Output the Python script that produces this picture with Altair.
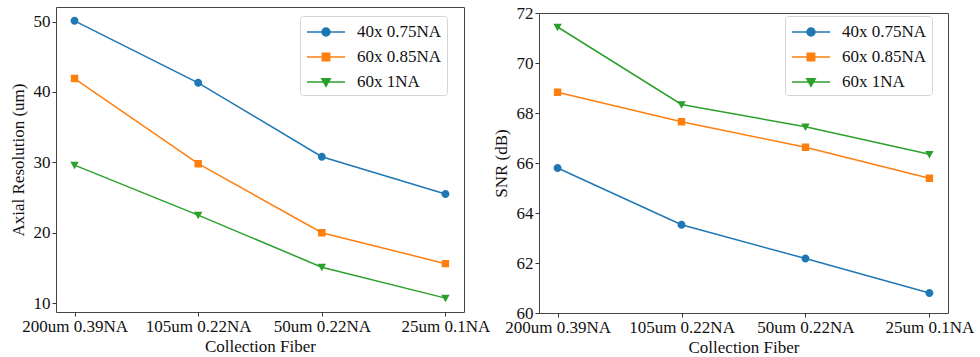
import altair as alt
import pandas as pd

fibers = ["200um 0.39NA", "105um 0.22NA", "50um 0.22NA", "25um 0.1NA"]
series = ["40x 0.75NA", "60x 0.85NA", "60x 1NA"]
colors = ["#1f77b4", "#ff7f0e", "#2ca02c"]

axial_40x075 = [50.1, 41.3, 30.8, 25.5]
axial_60x085 = [41.9, 29.8, 20.0, 15.6]
axial_60x1 = [29.6, 22.5, 15.1, 10.7]

snr_40x075 = [65.8, 63.53, 62.18, 60.8]
snr_60x085 = [68.83, 67.65, 66.63, 65.39]
snr_60x1 = [71.44, 68.34, 67.45, 66.35]

# marker glyphs with the legend line segment (the zero-area segment is invisible on filled points)
shapes = [
    "M-1.9,0H1.9M-0.4,0A0.4,0.4,0,1,1,0.4,0A0.4,0.4,0,1,1,-0.4,0Z",
    "M-1.9,0H1.9M-0.37,-0.37H0.37V0.37H-0.37Z",
    "M-1.9,0H1.9M-0.42,-0.33H0.42L0,0.42Z",
]

FONT = "Liberation Serif"


def make_df(vals):
    rows = []
    for s, v in zip(series, vals):
        for f, y in zip(fibers, v):
            rows.append({"fiber": f, "series": s, "value": y})
    return pd.DataFrame(rows)


df_axial = make_df([axial_40x075, axial_60x085, axial_60x1])
df_snr = make_df([snr_40x075, snr_60x085, snr_60x1])


def legend(lx, ly):
    return alt.Legend(
        title=None,
        orient="none",
        legendX=lx,
        legendY=ly,
        labelFont=FONT,
        labelFontSize=17,
        labelOffset=20,
        symbolOffset=10,
        symbolSize=400,
        symbolStrokeWidth=1.5,
        padding=5,
        rowPadding=6,
        fillColor="white",
        strokeColor="#d5d5d5",
        cornerRadius=3,
    )


def panel(df, ytitle, ydomain, yticks, lx, ly, w, h):
    x = alt.X(
        "fiber:N",
        sort=fibers,
        scale=alt.Scale(type="point", padding=0.15),
        axis=alt.Axis(title="Collection Fiber", labelAngle=0, titlePadding=4),
    )
    y = alt.Y(
        "value:Q",
        scale=alt.Scale(domain=ydomain, nice=False, zero=False),
        axis=alt.Axis(title=ytitle, values=yticks, titlePadding=6),
    )
    cscale = alt.Scale(domain=series, range=colors)
    lines = alt.Chart(df).mark_line(strokeWidth=1.5).encode(
        x=x,
        y=y,
        color=alt.Color("series:N", scale=cscale, legend=legend(lx, ly)),
    )
    pts = alt.Chart(df).mark_point(filled=True, size=400, opacity=1).encode(
        x=x,
        y=y,
        color=alt.Color("series:N", scale=cscale, legend=legend(lx, ly)),
        shape=alt.Shape("series:N", scale=alt.Scale(domain=series, range=shapes), legend=legend(lx, ly)),
    )
    return alt.layer(lines, pts).properties(width=w, height=h)


left = panel(df_axial, "Axial Resolution (um)", [8.73, 52.07], [10, 20, 30, 40, 50], 244, 9, 408, 305)
right_plot = panel(df_snr, "SNR (dB)", [60, 72], [60, 62, 64, 66, 68, 70, 72], 246, 9, 409, 300)

spacer = (
    alt.Chart(pd.DataFrame({"s": [0]}))
    .mark_point(opacity=0, size=0)
    .encode(x=alt.value(0), y=alt.value(0))
    .properties(width=1, height=1, view=alt.ViewBackground(stroke=None))
)
right = alt.vconcat(spacer, right_plot, spacing=5, bounds="flush")

chart = (
    alt.hconcat(left, right, spacing=0)
    .resolve_scale(color="independent", shape="independent")
    .resolve_legend(color="independent", shape="independent")
    .properties(padding={"left": 8, "top": 3, "right": 0, "bottom": 0})
    .configure(font=FONT)
    .configure_view(stroke="#444444", strokeWidth=1)
    .configure_legend(labelFont=FONT, labelFontSize=17, labelColor="#111111")
    .configure_axis(
        labelFont=FONT,
        labelFontSize=17,
        titleFont=FONT,
        titleFontSize=17,
        titleFontWeight="normal",
        labelColor="#111111",
        titleColor="#111111",
        tickColor="#333333",
        tickSize=4,
        labelPadding=2,
        domain=False,
        grid=False,
    )
)

chart.save("out.html", embed_options={"renderer": "svg", "actions": False})
